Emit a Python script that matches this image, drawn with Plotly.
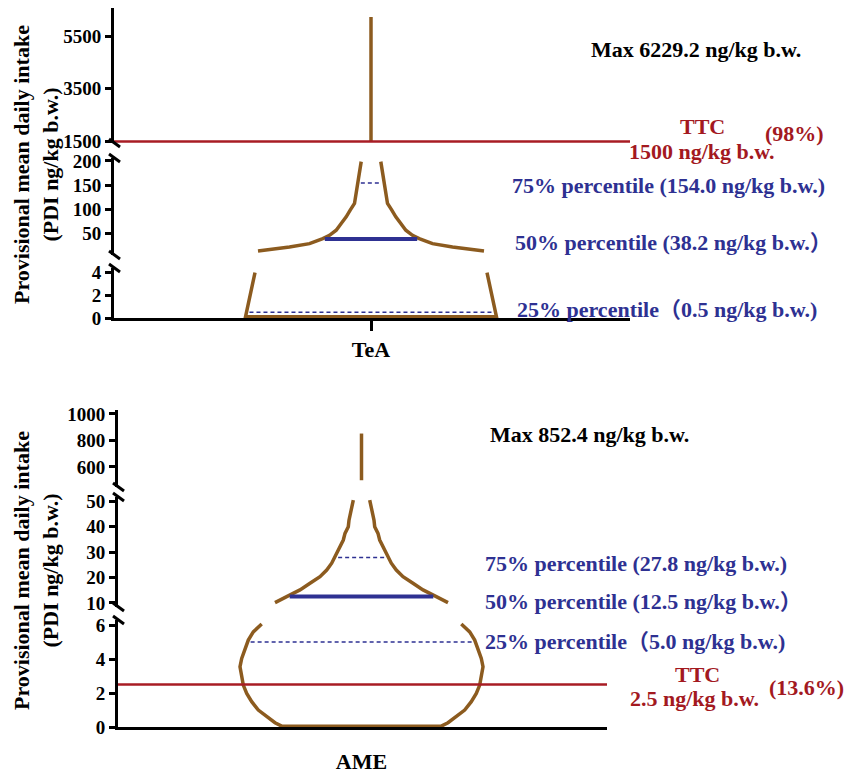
import numpy as np
import plotly.graph_objects as go

W, H = 847, 775

# ---------------- data ----------------
# TeA panel
tea_name = "TeA"
tea_max = 6229.2
tea_ttc = 1500
tea_ttc_share = "(98%)"
tea_pct_values = [0.5, 38.2, 154.0]            # 25 %, 50 %, 75 %
tea_pct_labels = ["25% percentile（0.5 ng/kg b.w.)",
                  "50% percentile (38.2 ng/kg b.w.）",
                  "75% percentile (154.0 ng/kg b.w.)"]
tea_top_values = [1500, 6229.2]
tea_mid_values = [198.5, 175, 153.5, 132.7, 111.9, 97.9, 84, 70.2, 56.3, 45.8, 39, 28.5, 21.5, 13.1]
tea_mid_width = [9.8, 11.5, 13.2, 14.2, 16.5, 20.8, 24.8, 29.8, 34.8, 41.5, 48.2, 61.5, 81.5, 113]
tea_low_values = [4.0, 0.1]
tea_low_width = [116, 125.5]
tea_ranges = [[1440, 6570], [5, 206], [0, 4.4]]
tea_ticks = [[1500, 3500, 5500], [50, 100, 150, 200], [0, 2, 4]]

# AME panel
ame_name = "AME"
ame_max = 852.4
ame_ttc = 2.5
ame_ttc_share = "(13.6%)"
ame_pct_values = [5.0, 12.5, 27.8]
ame_pct_labels = ["25% percentile（5.0 ng/kg b.w.)",
                  "50% percentile (12.5 ng/kg b.w.）",
                  "75% percentile (27.8 ng/kg b.w.)"]
ame_top_values = [500, 852.4]
ame_mid_values = [50.4, 47.8, 45.2, 42.5, 39.9, 37.3, 34.7, 32.1, 28.8, 25.6, 22.9, 20.3, 17.7, 15.1, 12.5, 10.1]
ame_mid_width = [8.2, 9.8, 11.5, 12.5, 13.2, 16.5, 18.2, 21.5, 24.8, 29.8, 34.8, 41.5, 51.5, 61.5, 74.8, 86.5]
ame_low_values = [6.06, 5.6, 5.12, 4.53, 4.04, 3.55, 2.96, 2.47, 1.98, 1.49, 1.0, 0.6, 0.25, 0.05]
ame_low_width = [99.8, 108.2, 113.2, 116.5, 119.8, 121.5, 119.8, 118.2, 114.8, 109.8, 103.2, 94.8, 86.5, 79.8]
ame_ranges = [[449, 1030], [8.4, 51.6], [0, 6.3]]
ame_ticks = [[600, 800, 1000], [10, 20, 30, 40, 50], [0, 2, 4, 6]]

y_title = "Provisional mean daily intake<br>(PDI ng/kg b.w.)"

# ---------------- styles ----------------
BROWN = "#8C5B1F"
RED = "#A81C24"
BLUE = "#2E3192"
TXT_RED = "#A3191F"
FONT = "Liberation Serif, Times New Roman, Noto Sans CJK SC, serif"


def px(x):
    return x / W


def py(y):
    return 1 - y / H


fig = go.Figure()


def add_panel(xa, ya_list, top_vals, mid_vals, mid_w, low_vals, low_w,
              ranges, pct_values, ttc, xr):
    ya, yb, yc = ya_list
    # top segment: thin vertical stem
    fig.add_trace(go.Scatter(x=[0] * len(top_vals), y=top_vals, mode="lines",
                             line=dict(color=BROWN, width=3.5), xaxis=xa, yaxis=ya,
                             hoverinfo="skip"))
    # middle segment: two open sides
    mx = [-w for w in mid_w] + [None] + list(mid_w)
    my = list(mid_vals) + [None] + list(mid_vals)
    fig.add_trace(go.Scatter(x=mx, y=my, mode="lines",
                             line=dict(color=BROWN, width=3.5), xaxis=xa, yaxis=yb,
                             hoverinfo="skip"))
    # lower segment: closed bottom
    lx = [-w for w in low_w] + list(low_w[::-1])
    ly = list(low_vals) + list(low_vals[::-1])
    fig.add_trace(go.Scatter(x=lx, y=ly, mode="lines",
                             line=dict(color=BROWN, width=3.5), xaxis=xa, yaxis=yc,
                             hoverinfo="skip"))
    # percentile lines
    segs = [(yb, mid_vals, mid_w, ranges[1]), (yc, low_vals, low_w, ranges[2])]
    for i, v in enumerate(pct_values):
        for yax, vals, wid, rg in segs:
            if rg[0] <= v <= rg[1]:
                hw = float(np.interp(v, vals[::-1], wid[::-1])) - 3
                if i == 1:
                    ln = dict(color=BLUE, width=4)
                else:
                    ln = dict(color=BLUE, width=1.5, dash="4px,3px")
                fig.add_trace(go.Scatter(x=[-hw, hw], y=[v, v], mode="lines", line=ln,
                                         xaxis=xa, yaxis=yax, hoverinfo="skip"))
                break
    # TTC line
    for yax, rg in zip(ya_list, ranges):
        if rg[0] <= ttc <= rg[1]:
            fig.add_trace(go.Scatter(x=list(xr), y=[ttc, ttc], mode="lines",
                                     line=dict(color=RED, width=2.5),
                                     xaxis=xa, yaxis=yax, hoverinfo="skip"))
            break


tick_font = dict(family=FONT, size=19, color="black", weight="bold")


def yaxis_cfg(dom_px, rg, ticks, anchor):
    return dict(domain=[py(dom_px[1]), py(dom_px[0])], range=rg, tickvals=ticks,
                anchor=anchor, showline=True, linewidth=3, linecolor="black",
                ticks="outside", ticklen=6, tickwidth=2.5, tickcolor="black",
                showgrid=False, zeroline=False, tickfont=tick_font, automargin=False)


top_dom = [(8, 143), (158, 255), (268, 318)]
bot_dom = [(410, 487), (497, 607), (620, 727)]
tea_xr = [-257, 259]
ame_xr = [-243.5, 245.5]

fig.update_layout(
    width=W, height=H,
    margin=dict(l=0, r=0, t=0, b=0, pad=0, autoexpand=False),
    paper_bgcolor="white", plot_bgcolor="white", showlegend=False,
    xaxis=dict(domain=[px(114), px(630)], range=tea_xr, anchor="y3",
               tickvals=[0], ticktext=[tea_name], showline=True, linewidth=3,
               linecolor="black", ticks="outside", ticklen=10, tickwidth=3,
               tickcolor="black", showgrid=False, zeroline=False, automargin=False,
               tickfont=dict(family=FONT, size=22, color="black", weight="bold")),
    xaxis2=dict(domain=[px(118), px(607)], range=ame_xr, anchor="y6",
                tickvals=[0], ticktext=[ame_name], showline=True, linewidth=3,
                linecolor="black", ticks="", ticklabelstandoff=13,
                showgrid=False, zeroline=False, automargin=False,
                tickfont=dict(family=FONT, size=22, color="black", weight="bold")),
    yaxis=yaxis_cfg(top_dom[0], tea_ranges[0], tea_ticks[0], "x"),
    yaxis2=yaxis_cfg(top_dom[1], tea_ranges[1], tea_ticks[1], "x"),
    yaxis3=yaxis_cfg(top_dom[2], tea_ranges[2], tea_ticks[2], "x"),
    yaxis4=yaxis_cfg(bot_dom[0], ame_ranges[0], ame_ticks[0], "x2"),
    yaxis5=yaxis_cfg(bot_dom[1], ame_ranges[1], ame_ticks[1], "x2"),
    yaxis6=yaxis_cfg(bot_dom[2], ame_ranges[2], ame_ticks[2], "x2"),
)

add_panel("x", ["y", "y2", "y3"], tea_top_values, tea_mid_values, tea_mid_width,
          tea_low_values, tea_low_width, tea_ranges, tea_pct_values, tea_ttc, tea_xr)
add_panel("x2", ["y4", "y5", "y6"], ame_top_values, ame_mid_values, ame_mid_width,
          ame_low_values, ame_low_width, ame_ranges, ame_pct_values, ame_ttc, ame_xr)

# axis break marks
for axis_x, doms in [(114, top_dom), (118, bot_dom)]:
    edges = [doms[0][1], doms[1][0], doms[1][1], doms[2][0]]
    for e in edges:
        fig.add_shape(type="line", xref="paper", yref="paper",
                      x0=px(axis_x - 5), x1=px(axis_x + 6),
                      y0=py(e - 4), y1=py(e + 4),
                      line=dict(color="black", width=3))


def ann(text, x, y, color, anchor="left", size=22):
    fig.add_annotation(text=text, x=px(x), y=py(y), xref="paper", yref="paper",
                       xanchor=anchor, yanchor="middle", showarrow=False,
                       font=dict(family=FONT, size=size, color=color, weight="bold"))


# y titles
for yc in (165, 571):
    fig.add_annotation(text=y_title, x=px(36), y=py(yc), xref="paper", yref="paper",
                       xanchor="center", yanchor="middle", showarrow=False, textangle=-90,
                       font=dict(family=FONT, size=22, color="black", weight="bold"))

# top panel texts
ann(f"Max {tea_max} ng/kg b.w.", 589, 50, "black")
ann("TTC", 702, 126, TXT_RED, "center")
ann(f"{tea_ttc} ng/kg b.w.", 702, 151, TXT_RED, "center")
ann(tea_ttc_share, 794, 134, TXT_RED, "center")
for lab, x, y in zip(tea_pct_labels, [515, 513, 510], [309, 243, 185]):
    ann(lab, x, y, BLUE)

# bottom panel texts
ann(f"Max {ame_max} ng/kg b.w.", 488, 434, "black")
ann("TTC", 697, 674, TXT_RED, "center")
ann(f"{ame_ttc} ng/kg b.w.", 694, 698, TXT_RED, "center")
ann(ame_ttc_share, 806, 687, TXT_RED, "center")
for lab, x, y in zip(ame_pct_labels, [483, 483, 483], [641, 601, 563]):
    ann(lab, x, y, BLUE)

fig.write_html("out.html", config={"displayModeBar": False},
               post_script="document.body.style.margin='0';document.body.style.padding='0';")
